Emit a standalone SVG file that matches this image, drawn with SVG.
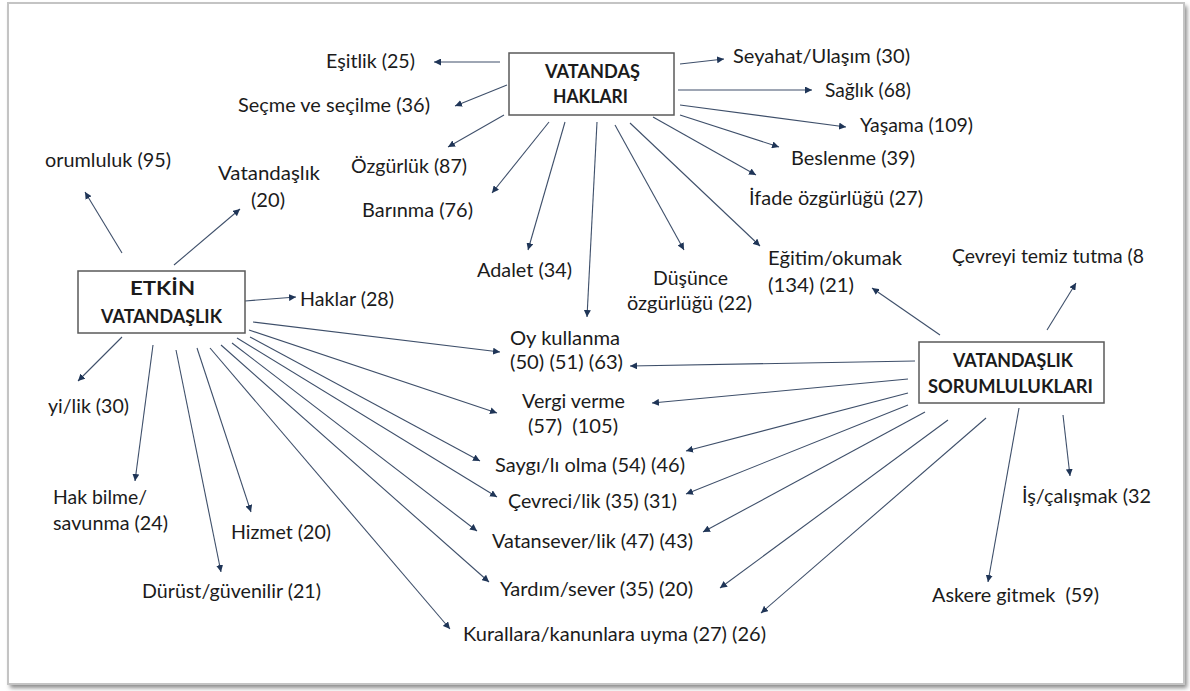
<svg xmlns="http://www.w3.org/2000/svg" width="1190" height="691" viewBox="0 0 1190 691">
<style>
text{font-family:Lato,"Open Sans","Liberation Sans",sans-serif;font-size:19px;fill:#1b1b1b}
.b{font-weight:bold;font-size:18px}
.box{fill:#fff;stroke:#5a5a5a;stroke-width:1.5}
.c line{stroke:#3e4f6a;stroke-width:1.1;marker-end:url(#ah)}
</style>
<defs>
<marker id="ah" markerUnits="userSpaceOnUse" markerWidth="8" markerHeight="7" refX="7" refY="3.5" orient="auto">
<path d="M0,0 L7,3.5 L0,7 Z" fill="#1f3557"/>
</marker>
<filter id="sh" x="-2%" y="-2%" width="104%" height="104%"><feGaussianBlur stdDeviation="2"/></filter>
</defs>
<rect width="1190" height="691" fill="#fff"/>
<rect x="10" y="6" width="1177" height="682" fill="#8a8a8a" filter="url(#sh)"/>
<rect x="8" y="3" width="1176" height="681" fill="#fff" stroke="#c4c4c4" stroke-width="2"/>

<g class="c" id="connectors">
<line x1="500" y1="62" x2="434" y2="62"/>
<line x1="507" y1="85" x2="455" y2="106"/>
<line x1="504" y1="115" x2="448" y2="147"/>
<line x1="549" y1="122" x2="492" y2="193"/>
<line x1="565" y1="122" x2="528" y2="250"/>
<line x1="597" y1="122" x2="587" y2="317"/>
<line x1="615" y1="125" x2="684" y2="250"/>
<line x1="630" y1="123" x2="760" y2="246"/>
<line x1="653" y1="117" x2="756" y2="175"/>
<line x1="680" y1="115" x2="779" y2="147"/>
<line x1="680" y1="105" x2="846" y2="127"/>
<line x1="678" y1="90" x2="812" y2="90"/>
<line x1="680" y1="64" x2="724" y2="59"/>

<line x1="122" y1="253" x2="85" y2="192"/>
<line x1="174" y1="265" x2="240" y2="209"/>
<line x1="245" y1="301" x2="296" y2="297"/>
<line x1="122" y1="337" x2="78" y2="381"/>
<line x1="153" y1="345" x2="135" y2="481"/>
<line x1="176" y1="350" x2="221" y2="572"/>
<line x1="197" y1="348" x2="251" y2="512"/>
<line x1="210" y1="348" x2="450" y2="629"/>
<line x1="221" y1="345" x2="489" y2="582"/>
<line x1="232" y1="343" x2="477" y2="531"/>
<line x1="237" y1="338" x2="497" y2="497"/>
<line x1="250" y1="337" x2="480" y2="461"/>
<line x1="249" y1="330" x2="497" y2="413"/>
<line x1="253" y1="322" x2="500" y2="352"/>

<line x1="940" y1="335" x2="872" y2="288"/>
<line x1="1047" y1="330" x2="1076" y2="283"/>
<line x1="915" y1="361" x2="630" y2="366"/>
<line x1="908" y1="379" x2="652" y2="403"/>
<line x1="908" y1="393" x2="686" y2="451"/>
<line x1="908" y1="405" x2="686" y2="494"/>
<line x1="925" y1="412" x2="703" y2="532"/>
<line x1="948" y1="420" x2="720" y2="588"/>
<line x1="986" y1="418" x2="761" y2="613"/>
<line x1="1019" y1="408" x2="988" y2="582"/>
<line x1="1063" y1="415" x2="1070" y2="476"/>
</g>

<g id="vatandas-haklari">
<rect class="box" x="509" y="53" width="165" height="62"/>
<text class="b" x="545" y="78" textLength="95" lengthAdjust="spacingAndGlyphs">VATANDAŞ</text>
<text class="b" x="553" y="103" textLength="75" lengthAdjust="spacingAndGlyphs">HAKLARI</text>
</g>
<g id="etkin-vatandaslik">
<rect class="box" x="78" y="271" width="167" height="62"/>
<text class="b" x="130" y="295" textLength="65" lengthAdjust="spacingAndGlyphs">ETKİN</text>
<text class="b" x="101" y="323" textLength="121" lengthAdjust="spacingAndGlyphs">VATANDAŞLIK</text>
</g>
<g id="vatandaslik-sorumluluklari">
<rect class="box" x="919" y="342" width="185" height="61"/>
<text class="b" x="953" y="367" textLength="120" lengthAdjust="spacingAndGlyphs">VATANDAŞLIK</text>
<text class="b" x="928" y="393" textLength="165" lengthAdjust="spacingAndGlyphs">SORUMLULUKLARI</text>
</g>

<g id="esitlik"><text x="326" y="68" textLength="89" lengthAdjust="spacingAndGlyphs">Eşitlik (25)</text></g>
<g id="secme"><text x="238" y="112" textLength="192" lengthAdjust="spacingAndGlyphs">Seçme ve seçilme (36)</text></g>
<g id="ozgurluk"><text x="351" y="173" textLength="116" lengthAdjust="spacingAndGlyphs">Özgürlük (87)</text></g>
<g id="barinma"><text x="362" y="217" textLength="111" lengthAdjust="spacingAndGlyphs">Barınma (76)</text></g>
<g id="sorumluluk"><text x="45" y="167" textLength="126" lengthAdjust="spacingAndGlyphs">orumluluk (95)</text></g>
<g id="vatandaslik"><text x="218" y="180" textLength="102" lengthAdjust="spacingAndGlyphs">Vatandaşlık</text><text x="251" y="207" textLength="34" lengthAdjust="spacingAndGlyphs">(20)</text></g>
<g id="seyahat"><text x="733" y="63" textLength="177" lengthAdjust="spacingAndGlyphs">Seyahat/Ulaşım (30)</text></g>
<g id="saglik"><text x="825" y="97" textLength="86" lengthAdjust="spacingAndGlyphs">Sağlık (68)</text></g>
<g id="yasama"><text x="860" y="132" textLength="113" lengthAdjust="spacingAndGlyphs">Yaşama (109)</text></g>
<g id="beslenme"><text x="791" y="165" textLength="124" lengthAdjust="spacingAndGlyphs">Beslenme (39)</text></g>
<g id="ifade"><text x="749" y="205" textLength="174" lengthAdjust="spacingAndGlyphs">İfade özgürlüğü (27)</text></g>
<g id="egitim"><text x="768" y="265" textLength="134" lengthAdjust="spacingAndGlyphs">Eğitim/okumak</text><text x="768" y="292" textLength="86" lengthAdjust="spacingAndGlyphs">(134) (21)</text></g>
<g id="dusunce"><text x="653" y="285" textLength="75" lengthAdjust="spacingAndGlyphs">Düşünce</text><text x="627" y="310" textLength="125" lengthAdjust="spacingAndGlyphs">özgürlüğü (22)</text></g>
<g id="adalet"><text x="477" y="277" textLength="95" lengthAdjust="spacingAndGlyphs">Adalet (34)</text></g>
<g id="oy"><text x="510" y="345" textLength="110" lengthAdjust="spacingAndGlyphs">Oy kullanma</text><text x="510" y="369" textLength="113" lengthAdjust="spacingAndGlyphs">(50) (51) (63)</text></g>
<g id="cevreyi"><text x="952" y="263" textLength="192" lengthAdjust="spacingAndGlyphs">Çevreyi temiz tutma (8</text></g>
<g id="haklar"><text x="300" y="306" textLength="94" lengthAdjust="spacingAndGlyphs">Haklar (28)</text></g>
<g id="iyilik"><text x="48" y="413" textLength="81" lengthAdjust="spacingAndGlyphs">yi/lik (30)</text></g>
<g id="hakbilme"><text x="53" y="504" textLength="94" lengthAdjust="spacingAndGlyphs">Hak bilme/</text><text x="53" y="530" textLength="115" lengthAdjust="spacingAndGlyphs">savunma (24)</text></g>
<g id="hizmet"><text x="231" y="539" textLength="100" lengthAdjust="spacingAndGlyphs">Hizmet (20)</text></g>
<g id="durust"><text x="142" y="598" textLength="179" lengthAdjust="spacingAndGlyphs">Dürüst/güvenilir (21)</text></g>
<g id="vergi"><text x="522" y="408" textLength="103" lengthAdjust="spacingAndGlyphs">Vergi verme</text><text x="528" y="433" textLength="90" lengthAdjust="spacingAndGlyphs" xml:space="preserve">(57)  (105)</text></g>
<g id="saygi"><text x="495" y="472" textLength="190" lengthAdjust="spacingAndGlyphs">Saygı/lı olma (54) (46)</text></g>
<g id="cevreci"><text x="508" y="508" textLength="169" lengthAdjust="spacingAndGlyphs">Çevreci/lik (35) (31)</text></g>
<g id="vatansever"><text x="492" y="548" textLength="201" lengthAdjust="spacingAndGlyphs">Vatansever/lik (47) (43)</text></g>
<g id="yardim"><text x="500" y="596" textLength="193" lengthAdjust="spacingAndGlyphs">Yardım/sever (35) (20)</text></g>
<g id="kurallara"><text x="463" y="641" textLength="303" lengthAdjust="spacingAndGlyphs">Kurallara/kanunlara uyma (27) (26)</text></g>
<g id="is"><text x="1022" y="503" textLength="129" lengthAdjust="spacingAndGlyphs">İş/çalışmak (32</text></g>
<g id="askere"><text x="932" y="602" textLength="167" lengthAdjust="spacingAndGlyphs" xml:space="preserve">Askere gitmek  (59)</text></g>
</svg>
